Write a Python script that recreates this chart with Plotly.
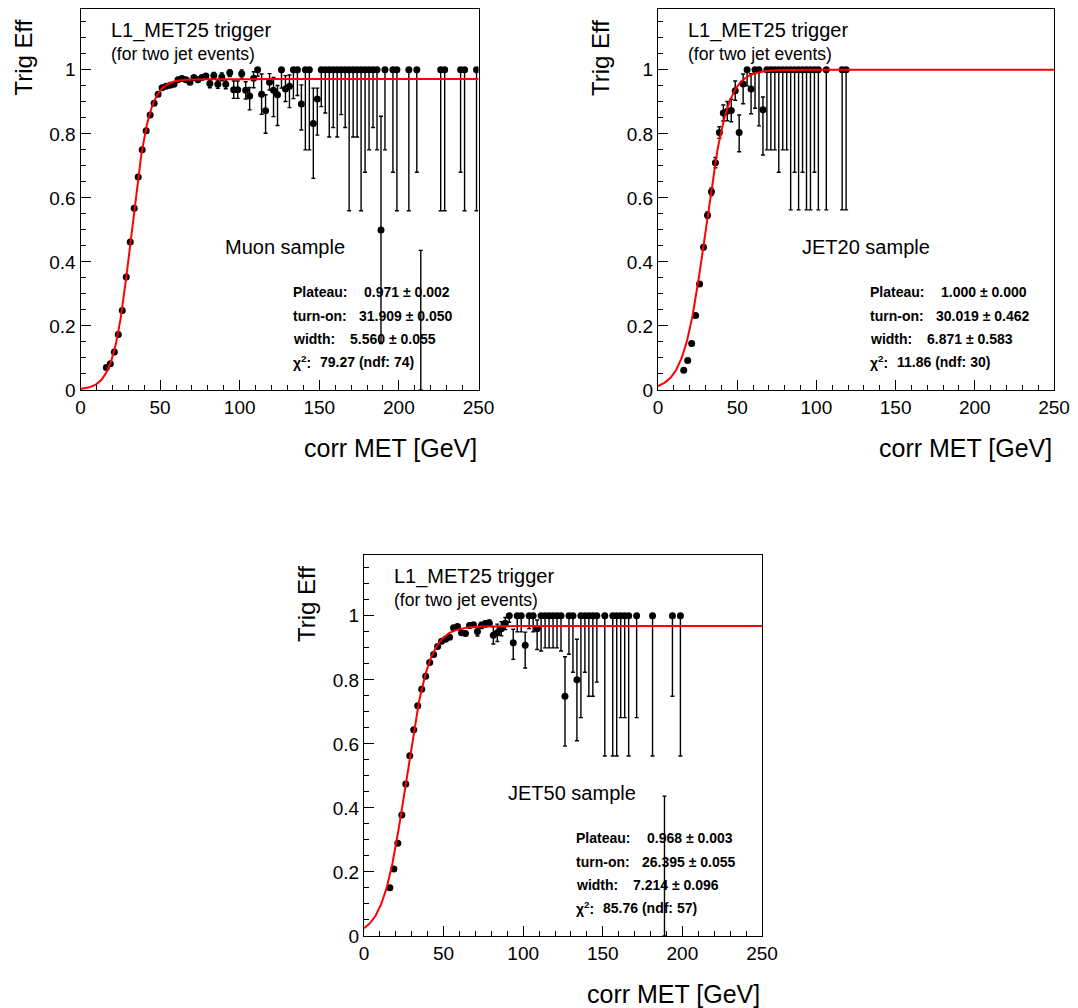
import numpy as np
import plotly.graph_objects as go

W, H = 1078, 1008

# ---------------- data ----------------
# Muon sample
x1 = [16.25, 18.75, 21.25, 23.75, 26.25, 28.75, 31.25, 33.75, 36.25, 38.75, 41.25, 43.75, 46.25,
      48.75, 51.25, 53.75, 56.25, 58.75, 61.25, 63.75, 66.25, 68.75, 71.25, 73.75, 76.25, 78.75,
      81.25, 83.75, 86.25, 88.75, 91.25, 93.75, 96.25, 98.75, 101.25, 103.75, 106.25, 108.75,
      111.25, 113.75, 116.25, 118.75, 121.25, 123.75, 126.25, 128.75, 131.25, 133.75, 136.25,
      138.75, 141.25, 143.75, 146.25, 148.75,
      151.25, 153.75, 156.25, 158.75, 161.25, 163.75, 166.25, 168.75, 171.25, 173.75, 176.25,
      178.75, 181.25, 183.75, 186.25,
      188.75, 191.25, 196.25, 198.75, 206.25, 211.25, 213.75, 226.25, 228.75, 238.75, 241.25, 248.75]
y1 = [0.070, 0.082, 0.119, 0.173, 0.248, 0.353, 0.462, 0.568, 0.665, 0.750, 0.810, 0.859, 0.896,
      0.924, 0.944, 0.949, 0.952, 0.955, 0.969, 0.973, 0.969, 0.961, 0.976, 0.969, 0.976, 0.981,
      0.957, 0.982, 0.955, 0.978, 0.955, 0.991, 0.938, 0.938, 0.988, 0.936, 0.918, 0.974,
      1.0, 0.924, 0.872, 0.961, 0.936, 0.922, 1.0, 0.940, 0.949, 1.0, 1.0,
      0.893, 1.0, 1.0, 0.832, 0.909,
      1.0, 1.0, 1.0, 1.0, 1.0, 1.0, 1.0, 1.0, 1.0, 1.0, 1.0, 1.0, 1.0, 1.0, 1.0,
      0.5, 1.0, 1.0, 1.0, 1.0, 1.0, 0.0, 1.0, 1.0, 1.0, 1.0, 1.0]
e1_lo = [0.004] * 26 + [
      0.013, 0.010, 0.013, 0.012, 0.014, 0.012, 0.027, 0.027, 0.014, 0.027, 0.043, 0.030,
      0.020, 0.063, 0.070, 0.024, 0.082, 0.096, 0.057, 0.039, 0.067, 0.090, 0.080,
      0.081, 0.250, 0.250, 0.171, 0.113,
      0.115, 0.135, 0.21, 0.18, 0.21, 0.14, 0.18, 0.44, 0.21, 0.21, 0.44, 0.32, 0.25, 0.18, 0.25,
      0.355, 0.25, 0.32, 0.44, 0.44, 0.32, 0.0, 0.44, 0.44, 0.32, 0.44, 0.44]
e1_hi = [0.004] * 26 + [
      0.013, 0.010, 0.013, 0.012, 0.014, 0.009, 0.027, 0.027, 0.012, 0.027, 0.027, 0.020,
      0.0, 0.063, 0.050, 0.027, 0.040, 0.029, 0.0, 0.042, 0.035, 0.0, 0.0,
      0.060, 0.0, 0.0, 0.111, 0.034,
      0, 0, 0, 0, 0, 0, 0, 0, 0, 0, 0, 0, 0, 0, 0,
      0.355, 0, 0, 0, 0, 0, 0.436, 0, 0, 0, 0, 0]

# JET20 sample
x2 = [16.25, 18.75, 21.25, 23.75, 26.25, 28.75, 31.25, 33.75, 36.25, 38.75, 41.25, 43.75, 46.25,
      48.75, 51.25, 53.75, 56.25, 58.75, 61.25, 63.75, 66.25,
      68.75, 71.25, 73.75, 76.25, 78.75, 81.25, 83.75, 86.25, 88.75, 91.25, 93.75, 96.25, 98.75, 101.25,
      106.25, 116.25, 118.75]
y2 = [0.062, 0.092, 0.145, 0.233, 0.331, 0.446, 0.546, 0.619, 0.710, 0.804, 0.865, 0.871, 0.873,
      0.935, 0.804, 0.956, 1.0, 0.940, 1.0, 1.0, 0.875,
      1.0, 1.0, 1.0, 1.0, 1.0, 1.0, 1.0, 1.0, 1.0, 1.0, 1.0, 1.0, 1.0, 1.0,
      1.0, 1.0, 1.0]
e2_lo = [0.004] * 5 + [0.007, 0.010, 0.012, 0.016, 0.018, 0.025, 0.030, 0.035, 0.030, 0.060,
      0.062, 0.050, 0.077, 0.120, 0.175, 0.141,
      0.25, 0.25, 0.25, 0.32, 0.25, 0.25, 0.4375, 0.32, 0.4375, 0.32, 0.4375, 0.4375, 0.32, 0.4375,
      0.4375, 0.4375, 0.4375]
e2_hi = [0.004] * 5 + [0.007, 0.010, 0.012, 0.016, 0.018, 0.025, 0.030, 0.035, 0.030, 0.055,
      0.031, 0.0, 0.048, 0.0, 0.0, 0.040] + [0.0] * 17

# JET50 sample
x3 = [16.25, 18.75, 21.25, 23.75, 26.25, 28.75, 31.25, 33.75, 36.25, 38.75, 41.25, 43.75, 46.25,
      48.75, 51.25, 53.75, 56.25, 58.75, 61.25, 63.75, 66.25, 68.75, 71.25, 73.75, 76.25, 78.75,
      81.25, 83.75, 86.25, 88.75,
      91.25, 93.75, 96.25, 98.75, 101.25, 103.75, 106.25, 108.75, 111.25, 113.75, 116.25, 118.75,
      121.25, 123.75, 126.25, 128.75, 131.25, 133.75, 136.25, 138.75, 141.25, 143.75, 146.25,
      151.25, 156.25, 158.75, 161.25, 163.75, 166.25, 171.25, 181.25, 188.75, 193.75, 198.75]
y3 = [0.151, 0.209, 0.290, 0.378, 0.475, 0.563, 0.644, 0.719, 0.771, 0.811, 0.854, 0.879, 0.904,
      0.921, 0.927, 0.933, 0.963, 0.967, 0.947, 0.945, 0.970, 0.972, 0.951, 0.970, 0.975, 0.977,
      0.939, 0.947, 0.960, 0.977,
      1.0, 0.916, 1.0, 1.0, 0.908, 1.0, 1.0, 0.960, 1.0, 1.0, 1.0, 1.0,
      1.0, 1.0, 0.749, 1.0, 1.0, 0.800, 1.0, 1.0, 1.0, 1.0, 1.0,
      1.0, 1.0, 1.0, 1.0, 1.0, 1.0, 1.0, 1.0, 0.0, 1.0, 1.0]
e3_lo = [0.004] * 22 + [0.014, 0.010, 0.010, 0.010, 0.027, 0.027, 0.022, 0.020,
      0.020, 0.052, 0.050, 0.050, 0.071, 0.040, 0.050, 0.065, 0.110, 0.100, 0.100, 0.100,
      0.100, 0.110, 0.156, 0.120, 0.176, 0.190, 0.318, 0.176, 0.251, 0.251, 0.207,
      0.438, 0.438, 0.438, 0.318, 0.318, 0.438, 0.318, 0.438, 0.0, 0.251, 0.438]
e3_hi = [0.004] * 22 + [0.014, 0.010, 0.010, 0.010, 0.027, 0.027, 0.022, 0.018,
      0.0, 0.042, 0.0, 0.0, 0.041, 0.0, 0.0, 0.027, 0.0, 0.0, 0.0, 0.0,
      0.0, 0.0, 0.123, 0.0, 0.0, 0.127, 0.0, 0.0, 0.0, 0.0, 0.0,
      0.0, 0.0, 0.0, 0.0, 0.0, 0.0, 0.0, 0.0, 0.437, 0.0, 0.0]

# fit results (plateau, turn-on, width) and texts
fits = [(0.971, 31.909, 5.560), (1.000, 30.019, 6.871), (0.968, 26.395, 7.214)]
samples = ["Muon sample", "JET20 sample", "JET50 sample"]
stat_vals = [
    ["0.971 ± 0.002", "31.909 ± 0.050", "5.560 ± 0.055", "79.27 (ndf: 74)"],
    ["1.000 ± 0.000", "30.019 ± 0.462", "6.871 ± 0.583", "11.86 (ndf: 30)"],
    ["0.968 ± 0.003", "26.395 ± 0.055", "7.214 ± 0.096", "85.76 (ndf: 57)"],
]
stat_labels = ["Plateau:", "turn-on:", "width:", "χ<sup>2</sup>:"]
x_ticks = [0, 50, 100, 150, 200, 250]
y_ticks = [0, 0.2, 0.4, 0.6, 0.8, 1]

# ---------------- layout geometry (pixels) ----------------
# (left, right, top, bottom) of each frame
frames = [(80.5, 478.5, 9, 390), (658, 1054, 9, 390), (364, 762, 555, 936)]

FONT = "Liberation Sans, Arial, Helvetica, sans-serif"


def fx(px):
    return px / W


def fy(py):
    return 1 - py / H


fig = go.Figure()
datasets = [(x1, y1, e1_lo, e1_hi), (x2, y2, e2_lo, e2_hi), (x3, y3, e3_lo, e3_hi)]

annotations = []
for i, ((xs, ys, elo, ehi), (p, t, w), fr) in enumerate(zip(datasets, fits, frames)):
    sfx = "" if i == 0 else str(i + 1)
    xa, ya = "x" + sfx, "y" + sfx
    sizes = [0 if (yv == 0.0) else 7 for yv in ys]
    fig.add_trace(go.Scatter(
        x=xs, y=ys, mode="markers", xaxis=xa, yaxis=ya, opacity=1,
        marker=dict(color="black", size=sizes, opacity=1, line=dict(width=0)),
        error_y=dict(type="data", symmetric=False, array=ehi, arrayminus=elo,
                     color="black", thickness=1.4, width=2),
        showlegend=False, hoverinfo="x+y"))
    xf = np.linspace(0, 250, 501)
    yf = p / (1 + np.exp(-(xf - t) / w))
    fig.add_trace(go.Scatter(x=xf, y=yf, mode="lines", xaxis=xa, yaxis=ya,
                             line=dict(color="#ff0000", width=2), showlegend=False,
                             hoverinfo="skip"))

    L, R, T, B = fr
    common = dict(showline=True, linecolor="black", linewidth=1, mirror=True,
                  showgrid=False, zeroline=False, ticks="inside", tickcolor="black",
                  tickwidth=1, automargin=False,
                  tickfont=dict(size=19, color="black", family=FONT))
    fig.update_layout(**{
        "xaxis" + sfx: dict(domain=[fx(L), fx(R)], range=[0, 250], anchor=ya,
                            tickvals=x_ticks, ticklen=10,
                            minor=dict(dtick=10, tick0=0, ticks="inside", ticklen=5,
                                       tickcolor="black", tickwidth=1, showgrid=False),
                            **common),
        "yaxis" + sfx: dict(domain=[fy(B), fy(T)], range=[0, 1.19], anchor=xa,
                            tickvals=y_ticks, ticklen=10,
                            minor=dict(dtick=0.05, tick0=0, ticks="inside", ticklen=5,
                                       tickcolor="black", tickwidth=1, showgrid=False),
                            **common),
    })

    def A(px, py, text, size, xanchor="left", yanchor="middle", angle=0):
        annotations.append(dict(x=fx(px), y=fy(py), xref="paper", yref="paper", text=text,
                                showarrow=False, xanchor=xanchor, yanchor=yanchor,
                                textangle=angle,
                                font=dict(size=size, color="black", family=FONT)))

    # headers
    A(L + 28, T + 21, "L1_MET25 trigger", 20)
    A(L + 28, T + 45, "(for two jet events)", 17.5)
    A(L + 142, B - 143, samples[i], 20)
    # stats
    offs_y = [-98, -74, -51, -28]
    offs_x = [281, 276, 267, 237]
    for k in range(4):
        A(L + 210, B + offs_y[k], "<b>" + stat_labels[k] + "</b>", 14)
        A(L + offs_x[k], B + offs_y[k], "<b>" + stat_vals[i][k] + "</b>", 14)
    # axis titles
    A(L - 58, T + 9, "Trig Eff", 24, xanchor="center", yanchor="top", angle=-90)
    A(R, B + 58, "corr MET [GeV]", 25, xanchor="right", yanchor="middle")

fig.update_layout(template="none", width=W, height=H, autosize=False,
                  margin=dict(l=0, r=0, t=0, b=0, pad=0),
                  paper_bgcolor="white", plot_bgcolor="white",
                  font=dict(family=FONT, color="black"),
                  annotations=annotations, showlegend=False)

fig.write_html("out.html")
